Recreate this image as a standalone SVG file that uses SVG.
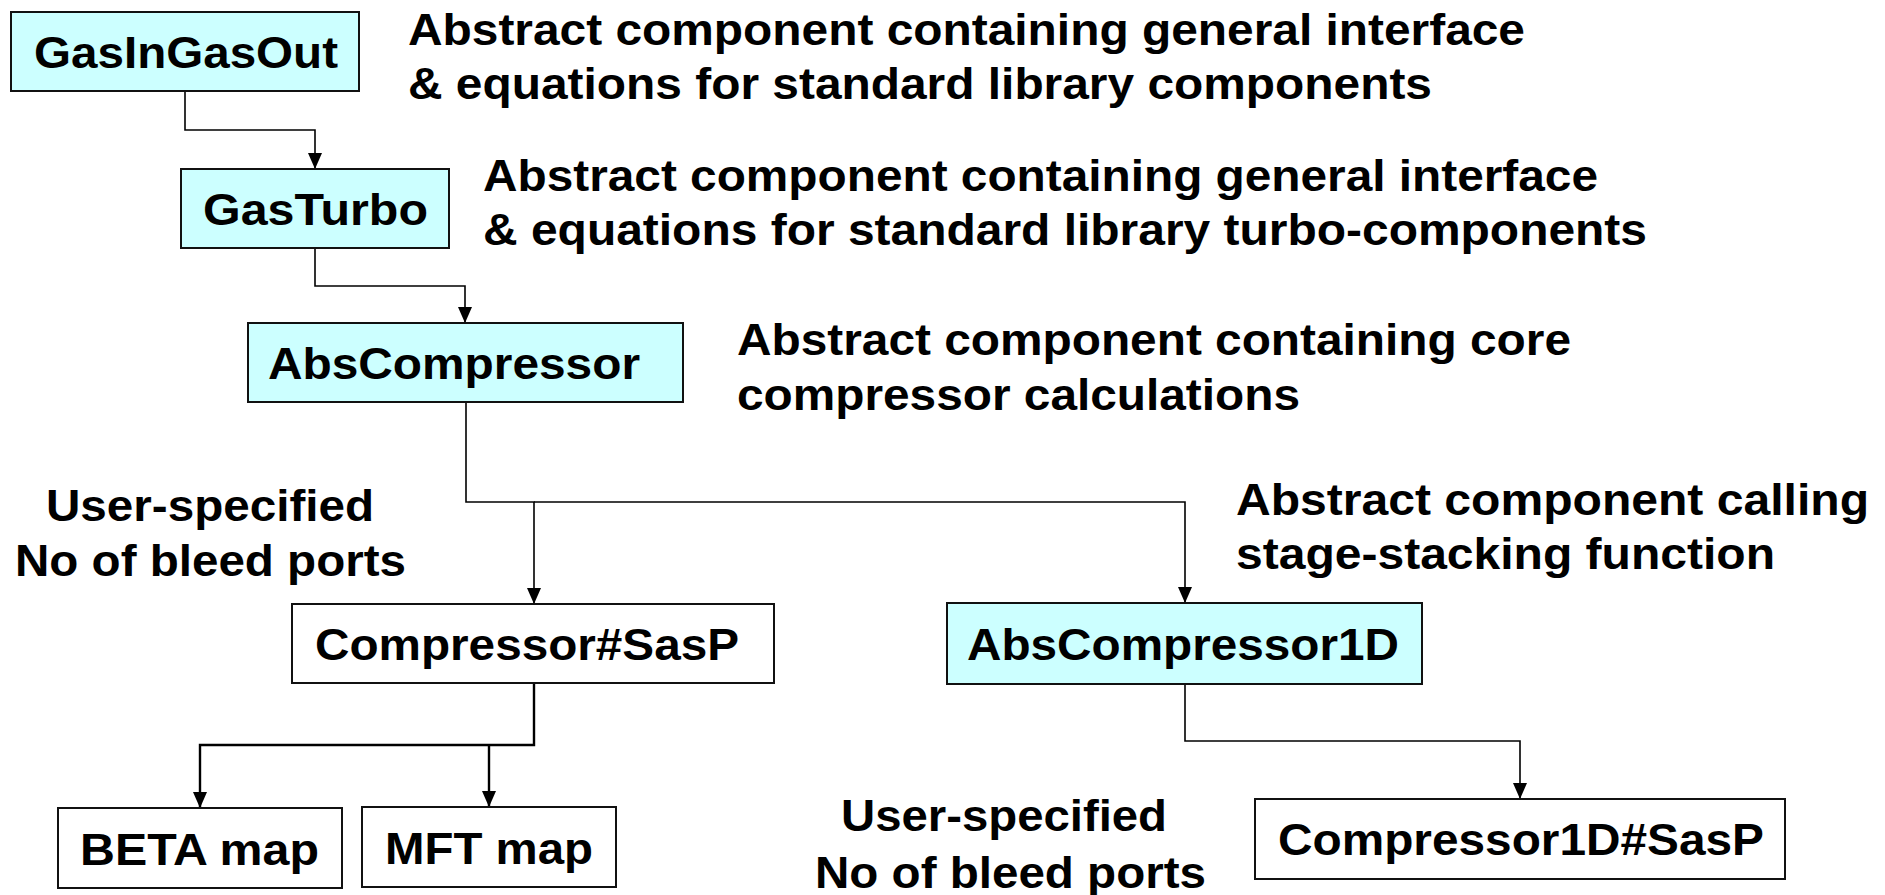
<svg xmlns="http://www.w3.org/2000/svg" width="1885" height="895" viewBox="0 0 1885 895">
<style>
text{font-family:"Liberation Sans",Arial,sans-serif;font-weight:bold;font-size:44px;fill:#000}
.abs{fill:#ccffff;stroke:#111;stroke-width:2}
.con{fill:#fff;stroke:#111;stroke-width:2}
.ln{fill:none;stroke:#000;stroke-width:1.6}
.lnb{fill:none;stroke:#000;stroke-width:2.4}
</style>
<defs>
<marker id="arr" viewBox="0 0 16 14" refX="16" refY="7" markerWidth="16" markerHeight="14" markerUnits="userSpaceOnUse" orient="auto">
<path d="M0,0 L16,7 L0,14 z" fill="#000"/>
</marker>
</defs>
<rect width="1885" height="895" fill="#fff"/>
<g id="connectors">
<path class="ln" d="M185,91 V130 H315 V169" marker-end="url(#arr)"/>
<path class="ln" d="M315,248 V286 H465 V323" marker-end="url(#arr)"/>
<path class="ln" d="M466,402 V502 H534 V604" marker-end="url(#arr)"/>
<path class="ln" d="M534,502 H1185 V603" marker-end="url(#arr)"/>
<path class="lnb" d="M534,683 V745 H200 V808" marker-end="url(#arr)"/>
<path class="lnb" d="M489,745 V807" marker-end="url(#arr)"/>
<path class="ln" d="M1185,684 V741 H1520 V799" marker-end="url(#arr)"/>
</g>
<g id="GasInGasOut">
<rect class="abs" x="11" y="12" width="348" height="79"/>
<text x="34" y="68" textLength="304" lengthAdjust="spacingAndGlyphs">GasInGasOut</text>
</g>
<g id="GasTurbo">
<rect class="abs" x="181" y="169" width="268" height="79"/>
<text x="203" y="225" textLength="225" lengthAdjust="spacingAndGlyphs">GasTurbo</text>
</g>
<g id="AbsCompressor">
<rect class="abs" x="248" y="323" width="435" height="79"/>
<text x="268" y="379" textLength="372" lengthAdjust="spacingAndGlyphs">AbsCompressor</text>
</g>
<g id="CompressorSasP">
<rect class="con" x="292" y="604" width="482" height="79"/>
<text x="315" y="660" textLength="424" lengthAdjust="spacingAndGlyphs">Compressor#SasP</text>
</g>
<g id="AbsCompressor1D">
<rect class="abs" x="947" y="603" width="475" height="81"/>
<text x="967" y="660" textLength="432" lengthAdjust="spacingAndGlyphs">AbsCompressor1D</text>
</g>
<g id="Compressor1DSasP">
<rect class="con" x="1255" y="799" width="530" height="80"/>
<text x="1278" y="855" textLength="486" lengthAdjust="spacingAndGlyphs">Compressor1D#SasP</text>
</g>
<g id="BETAmap">
<rect class="con" x="58" y="808" width="284" height="80"/>
<text x="80" y="865" textLength="239" lengthAdjust="spacingAndGlyphs">BETA map</text>
</g>
<g id="MFTmap">
<rect class="con" x="362" y="807" width="254" height="80"/>
<text x="385" y="864" textLength="208" lengthAdjust="spacingAndGlyphs">MFT map</text>
</g>
<g id="notes">
<text x="408" y="45" textLength="1117" lengthAdjust="spacingAndGlyphs">Abstract component containing general interface</text>
<text x="408" y="99" textLength="1024" lengthAdjust="spacingAndGlyphs">&amp; equations for standard library components</text>
<text x="483" y="191" textLength="1115" lengthAdjust="spacingAndGlyphs">Abstract component containing general interface</text>
<text x="483" y="245" textLength="1164" lengthAdjust="spacingAndGlyphs">&amp; equations for standard library turbo-components</text>
<text x="737" y="355" textLength="834" lengthAdjust="spacingAndGlyphs">Abstract component containing core</text>
<text x="737" y="410" textLength="563" lengthAdjust="spacingAndGlyphs">compressor calculations</text>
<text x="1236" y="515" textLength="633" lengthAdjust="spacingAndGlyphs">Abstract component calling</text>
<text x="1236" y="569" textLength="539" lengthAdjust="spacingAndGlyphs">stage-stacking function</text>
<text x="46" y="521" textLength="328" lengthAdjust="spacingAndGlyphs">User-specified</text>
<text x="15" y="576" textLength="391" lengthAdjust="spacingAndGlyphs">No of bleed ports</text>
<text x="841" y="831" textLength="326" lengthAdjust="spacingAndGlyphs">User-specified</text>
<text x="815" y="888" textLength="391" lengthAdjust="spacingAndGlyphs">No of bleed ports</text>
</g>
</svg>
